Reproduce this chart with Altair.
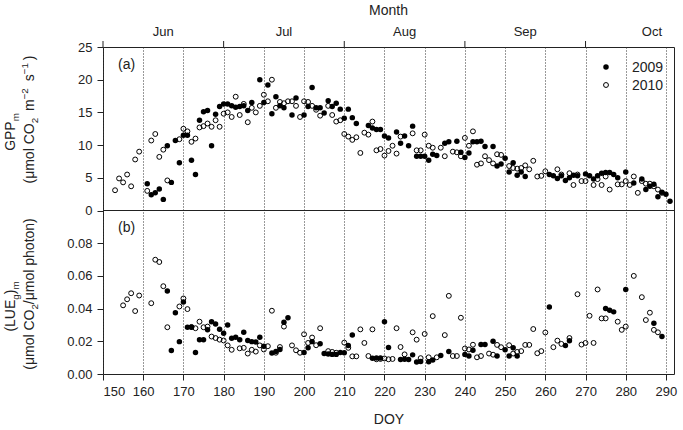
import altair as alt
import pandas as pd

# ---------------- data ----------------
# Maximum gross primary production, GPP_m (umol CO2 m-2 s-1)
gpp09_doy = [161, 162, 163, 164, 165, 166, 167, 168, 169, 170, 171, 172, 173, 174, 175, 176, 177, 178, 179,
             180, 181, 182, 183, 184, 185, 186, 187, 189, 190, 191, 192, 193, 194, 195, 197, 198, 200, 201,
             202, 203, 204, 205, 206, 207, 208, 209, 210, 211, 212, 213, 216, 217, 218, 219, 220, 221, 223,
             224, 225, 226, 227, 228, 229, 230, 231, 232, 233, 235, 236, 238, 239, 240, 241, 242, 243, 244,
             245, 247, 248, 249, 250, 251, 252, 253, 254, 255, 261, 262, 263, 264, 265, 266, 267, 268, 270,
             271, 272, 273, 274, 275, 276, 277, 278, 280, 282, 284, 285, 286, 287, 288, 289, 290, 291]
gpp09_val = [4.1, 2.4, 2.7, 3.3, 1.7, 9.9, 4.3, 10.7, 7.3, 11.5, 11.5, 7.7, 5.5, 13.8, 15.1, 15.3, 9.9, 14.7, 15.9,
             16.3, 16.3, 16.0, 15.8, 15.9, 16.0, 15.3, 16.5, 20.0, 16.5, 19.2, 14.8, 17.4, 16.0, 15.7, 14.6, 17.2, 14.6, 15.9,
             18.8, 15.7, 15.7, 14.9, 16.8, 15.9, 16.4, 15.5, 14.1, 15.5, 14.2, 13.3, 13.0, 12.6, 12.4, 12.4, 11.4, 11.1, 12.0,
             10.3, 11.4, 9.9, 12.9, 8.3, 8.3, 8.3, 7.7, 8.6, 8.4, 10.3, 10.5, 10.6, 8.9, 8.1, 8.8, 10.5, 10.5, 10.6,
             9.8, 9.8, 6.8, 7.1, 8.0, 5.9, 7.3, 5.4, 5.9, 5.2, 5.5, 5.3, 4.9, 5.3, 4.6, 5.0, 5.4, 5.3, 5.6,
             5.3, 4.8, 5.3, 5.7, 5.8, 5.8, 5.5, 5.0, 5.9, 4.2, 4.8, 3.2, 3.7, 4.0, 2.1, 2.8, 2.5, 1.4]

gpp10_doy = [153, 154, 155, 156, 157, 158, 159, 161, 162, 163, 164, 165, 166, 169, 170, 171, 172, 173, 174,
             175, 176, 177, 178, 179, 180, 181, 182, 183, 184, 185, 186, 187, 188, 189, 190, 191, 192, 193,
             194, 195, 196, 197, 198, 199, 200, 201, 202, 203, 204, 206, 207, 208, 209, 210, 211, 212, 213,
             214, 215, 216, 217, 218, 219, 220, 221, 222, 223, 224, 227, 228, 229, 230, 231, 232, 234, 235,
             237, 238, 239, 240, 241, 242, 243, 244, 245, 246, 247, 248, 249, 251, 252, 253, 254, 255, 256,
             257, 258, 259, 260, 263, 264, 266, 267, 268, 269, 270, 272, 273, 274, 275, 276, 278, 279, 280,
             281, 282, 283, 284, 285, 286, 287, 288, 289]
gpp10_val = [3.1, 4.9, 4.3, 5.5, 3.7, 7.8, 9.0, 3.0, 10.7, 11.7, 8.2, 9.3, 4.6, 10.9, 12.5, 12.1, 10.5, 11.0, 12.7,
             12.9, 13.3, 12.8, 13.8, 12.8, 14.8, 15.0, 14.3, 17.4, 14.6, 16.3, 13.5, 15.7, 15.0, 16.0, 17.7, 16.7, 20.0, 15.7,
             16.6, 16.4, 16.7, 16.7, 16.0, 14.3, 16.7, 16.6, 16.0, 15.4, 14.5, 16.0, 14.6, 13.6, 13.8, 11.7, 11.3, 10.8, 11.2,
             8.8, 11.9, 11.6, 13.6, 9.2, 9.4, 8.4, 9.1, 9.9, 8.7, 11.3, 11.8, 9.2, 9.2, 11.6, 9.9, 9.6, 9.6, 8.3,
             9.0, 8.9, 8.3, 11.1, 9.9, 12.1, 7.0, 7.2, 8.3, 7.7, 7.2, 8.6, 8.5, 6.8, 6.5, 6.4, 6.5, 6.9, 6.3,
             7.6, 5.2, 5.3, 6.0, 6.3, 5.5, 5.7, 3.9, 5.5, 4.5, 4.5, 3.9, 4.8, 3.9, 5.2, 3.2, 4.0, 4.0, 4.5,
             3.9, 5.2, 2.7, 4.5, 4.1, 4.1, 3.7, 3.2, 2.7]

# Maximum light use efficiency, (LUE_g)_m (umol CO2 / umol photon)
lue09_doy = [166, 167, 168, 169, 170, 171, 172, 173, 174, 175, 176, 177, 178, 179, 180, 181, 182, 183, 184,
             185, 186, 187, 188, 189, 190, 192, 193, 194, 195, 196, 200, 201, 202, 204, 205, 206, 207, 208,
             209, 210, 211, 212, 217, 218, 219, 220, 221, 224, 225, 226, 227, 228, 229, 231, 232, 234, 236,
             240, 241, 242, 244, 245, 247, 248, 250, 251, 252, 253, 261, 265, 266, 275, 276, 277, 280, 287, 289]
lue09_val = [0.0508, 0.0144, 0.0375, 0.0198, 0.0441, 0.0286, 0.0286, 0.0131, 0.0210, 0.0210, 0.0270, 0.0320,
             0.0306, 0.0274, 0.0249, 0.0300, 0.0219, 0.0225, 0.0210, 0.0255, 0.0205, 0.0198, 0.0196, 0.0225,
             0.0170, 0.0128, 0.0137, 0.0150, 0.0316, 0.0344, 0.0131, 0.0160, 0.0198, 0.0185, 0.0125, 0.0122,
             0.0120, 0.0120, 0.0131, 0.0130, 0.0174, 0.0239, 0.0097, 0.0098, 0.0098, 0.0320, 0.0162, 0.0088,
             0.0090, 0.0088, 0.0117, 0.0074, 0.0076, 0.0075, 0.0085, 0.0113, 0.0137, 0.0120, 0.0110, 0.0145,
             0.0180, 0.0180, 0.0200, 0.0110, 0.0148, 0.0110, 0.0160, 0.0110, 0.0410, 0.0174, 0.0204, 0.0400,
             0.0390, 0.0380, 0.0517, 0.0310, 0.0229]

lue10_doy = [155, 156, 157, 158, 159, 162, 163, 164, 165, 166, 169, 170, 171, 172, 173, 174, 175, 176, 177,
             178, 179, 180, 181, 182, 184, 185, 186, 187, 188, 189, 190, 191, 192, 193, 194, 195, 197, 198,
             199, 200, 201, 202, 203, 204, 206, 207, 208, 210, 211, 212, 213, 214, 215, 216, 217, 218, 219,
             220, 221, 222, 223, 224, 225, 227, 228, 229, 230, 231, 232, 233, 235, 236, 237, 238, 239, 240,
             241, 242, 243, 244, 246, 247, 248, 249, 251, 252, 253, 254, 255, 256, 257, 258, 259, 260, 262,
             263, 264, 266, 268, 269, 270, 271, 272, 273, 274, 275, 278, 279, 280, 282, 284, 285, 286, 287, 288]
lue10_val = [0.0420, 0.0457, 0.0494, 0.0385, 0.0480, 0.0433, 0.0699, 0.0685, 0.0537, 0.0286, 0.0413, 0.0462,
             0.0397, 0.0288, 0.0280, 0.0320, 0.0286, 0.0290, 0.0229, 0.0220, 0.0210, 0.0205, 0.0175, 0.0148,
             0.0157, 0.0160, 0.0125, 0.0148, 0.0137, 0.0175, 0.0150, 0.0170, 0.0387, 0.0130, 0.0165, 0.0290,
             0.0175, 0.0145, 0.0130, 0.0243, 0.0190, 0.0223, 0.0176, 0.0280, 0.0140, 0.0135, 0.0130, 0.0192,
             0.0160, 0.0108, 0.0108, 0.0273, 0.0190, 0.0110, 0.0273, 0.0090, 0.0092, 0.0095, 0.0090, 0.0092,
             0.0280, 0.0165, 0.0120, 0.0255, 0.0210, 0.0097, 0.0245, 0.0102, 0.0354, 0.0102, 0.0238, 0.0478,
             0.0110, 0.0110, 0.0344, 0.0156, 0.0150, 0.0179, 0.0102, 0.0110, 0.0125, 0.0118, 0.0178, 0.0164,
             0.0176, 0.0125, 0.0135, 0.0140, 0.0178, 0.0178, 0.0275, 0.0127, 0.0140, 0.0254, 0.0164, 0.0204,
             0.0184, 0.0220, 0.0488, 0.0180, 0.0190, 0.0356, 0.0190, 0.0517, 0.0340, 0.0340, 0.0320, 0.0270,
             0.0290, 0.0600, 0.0470, 0.0330, 0.0375, 0.0270, 0.0255]

years = ["2009", "2010"]
panel_tags = ["(a)", "(b)"]
month_names = ["Jun", "Jul", "Aug", "Sep", "Oct"]
month_label_doy = [165, 195, 225, 255, 286.5]
month_edges = [150, 180, 210, 240, 270]
doy_ticks = list(range(150, 291, 10))
gpp_ticks = [0, 5, 10, 15, 20, 25]
lue_ticks = [0.00, 0.02, 0.04, 0.06, 0.08]
GPP_TOP = 25
LUE_TOP = 0.1

# ---------------- long table ----------------
frames = []
for yr, d, v in [(years[0], gpp09_doy, gpp09_val), (years[1], gpp10_doy, gpp10_val)]:
    frames.append(pd.DataFrame({"doy": d, "value": v, "year": yr, "panel": "gpp"}))
for yr, d, v in [(years[0], lue09_doy, lue09_val), (years[1], lue10_doy, lue10_val)]:
    frames.append(pd.DataFrame({"doy": d, "value": v, "year": yr, "panel": "lue"}))
obs = pd.concat(frames, ignore_index=True)

# ---------------- layout ----------------
W, H = 571, 327          # both panels together; each panel is half of H
INK = "#222222"
FONT = "Liberation Sans"

# the two panels share one vertical scale: LUE panel fills [0, 1], GPP panel fills [1, 2]
y_tick_pos = [t / LUE_TOP for t in lue_ticks] + [1 + t / GPP_TOP for t in gpp_ticks]
label_expr = ("datum.value < 0.95 ? format(datum.value * %g, '.2f') : "
              "format((datum.value - 1) * %g, '.0f')") % (LUE_TOP, GPP_TOP)

x_enc = alt.X("doy:Q",
              scale=alt.Scale(domain=[150, 292], nice=False, zero=False),
              axis=alt.Axis(values=doy_ticks, format="d", title="DOY", grid=True,
                            gridDash=[1, 2], gridColor="#333333", gridWidth=1,
                            tickSize=6, labelPadding=5, titlePadding=14, domain=False,
                            labelFontSize=13, titleFontSize=14))
y_enc = alt.Y("ypos:Q",
              scale=alt.Scale(domain=[0, 2], nice=False, zero=False),
              axis=alt.Axis(values=y_tick_pos, labelExpr=label_expr, title=None, grid=False,
                            tickSize=6, labelPadding=5, domain=False, labelFontSize=13))

base = alt.Chart(obs).transform_calculate(
    ypos="datum.panel == 'gpp' ? 1 + datum.value / %g : datum.value / %g" % (GPP_TOP, LUE_TOP)
)

dots09 = base.transform_filter(alt.datum.year == years[0]).mark_point(
    shape="circle", filled=True, size=30, color="black", opacity=1
).encode(x=x_enc, y=y_enc)

dots10 = base.transform_filter(alt.datum.year == years[1]).mark_point(
    shape="circle", filled=False, size=24, strokeWidth=1, color="black", opacity=1
).encode(x=x_enc, y=y_enc)

divider = alt.Chart(pd.DataFrame({"ypos": [1.0]})).mark_rule(
    color=INK, strokeWidth=1
).encode(y=y_enc)

month_ticks = alt.Chart(pd.DataFrame({"doy": month_edges})).mark_rule(
    color=INK, strokeWidth=1
).encode(x=x_enc, y=alt.value(-6), y2=alt.value(0))

month_text = alt.Chart(pd.DataFrame({"doy": month_label_doy, "name": month_names})).mark_text(
    font=FONT, fontSize=13, baseline="middle", color=INK
).encode(x=x_enc, y=alt.value(-15), text="name:N")


def one_row():
    return pd.DataFrame({"k": [0]})


def label(txt, x, y, size=14, align="left", baseline="middle", angle=0):
    return alt.Chart(one_row()).mark_text(
        text=txt, font=FONT, fontSize=size, align=align, baseline=baseline, color=INK, angle=angle
    ).encode(x=alt.value(x), y=alt.value(y))


month_title = label("Month", W / 2, -32, size=14, align="center", baseline="alphabetic")
tag_a = label(panel_tags[0], 15, 18)
tag_b = label(panel_tags[1], 15, 181)

key_dot09 = alt.Chart(one_row()).mark_point(
    shape="circle", filled=True, size=30, color="black", opacity=1
).encode(x=alt.value(503), y=alt.value(20))
key_dot10 = alt.Chart(one_row()).mark_point(
    shape="circle", filled=False, size=24, strokeWidth=1, color="black", opacity=1
).encode(x=alt.value(503), y=alt.value(38))
key_txt09 = label(years[0], 529, 21)
key_txt10 = label(years[1], 529, 39)

# ---------------- rotated axis titles with sub/superscripts ----------------
# advance widths of Liberation Sans (Arial metrics), in em
CHAR_W = {" ": 0.278, "(": 0.333, ")": 0.333, "/": 0.278, "\u2212": 0.584,
          "C": 0.722, "E": 0.667, "G": 0.778, "L": 0.556, "O": 0.778, "P": 0.667, "U": 0.722,
          "g": 0.556, "h": 0.556, "l": 0.222, "m": 0.833, "n": 0.556, "o": 0.556, "p": 0.556,
          "s": 0.5, "t": 0.278, "\u03bc": 0.576}


def text_w(s, fs):
    return sum(CHAR_W.get(c, 0.556) for c in s) * fs


def rotated_title(pieces, x_base, y_mid, fs=14, gap=0.0):
    """Vertical title (reading upwards) made of normal / sub / sup pieces."""
    sizes = [fs * 0.7 if role else fs for _, role in pieces]
    widths = [text_w(t, s) + (gap if role else 0) for (t, role), s in zip(pieces, sizes)]
    y = y_mid + sum(widths) / 2
    out = []
    for (t, role), s, w in zip(pieces, sizes, widths):
        lead = len(t) - len(t.lstrip())
        shift = {"": 0.0, "sub": 0.32 * fs, "sup": -0.42 * fs}[role]
        out.append(label(t.strip(), x_base + shift, y - text_w(t[:lead], s),
                         size=s, align="left", baseline="alphabetic", angle=270))
        y -= w
    return out


titles = []
titles += rotated_title([("GPP", ""), ("m", "sub")], -88, 85)
titles += rotated_title([("(\u03bcmol CO", ""), ("2", "sub"), (" m", ""), ("\u22122", "sup"),
                         (" s", ""), ("\u22121", "sup"), (")", "")], -69, 72.5, gap=3)
titles += rotated_title([("(LUE", ""), ("g", "sub"), (")", ""), ("m", "sub")], -88, 259.5)
titles += rotated_title([("(\u03bcmol CO", ""), ("2", "sub"), ("/\u03bcmol photon)", "")], -69, 247)

chart = alt.layer(
    dots09, dots10, divider, month_ticks, month_text, month_title, tag_a, tag_b,
    key_dot09, key_dot10, key_txt09, key_txt10, *titles
).properties(
    width=W, height=H,
    autosize=alt.AutoSizeParams(type="none"),
    padding={"left": 103, "top": 47, "right": 9, "bottom": 56},
    background="white",
).configure_view(
    stroke=INK, strokeWidth=1
).configure_axis(
    labelFont=FONT, titleFont=FONT, labelColor=INK, titleColor=INK, tickColor=INK,
    titleFontWeight="normal"
)

chart.save("out.html", embed_options={"renderer": "svg", "actions": False})
